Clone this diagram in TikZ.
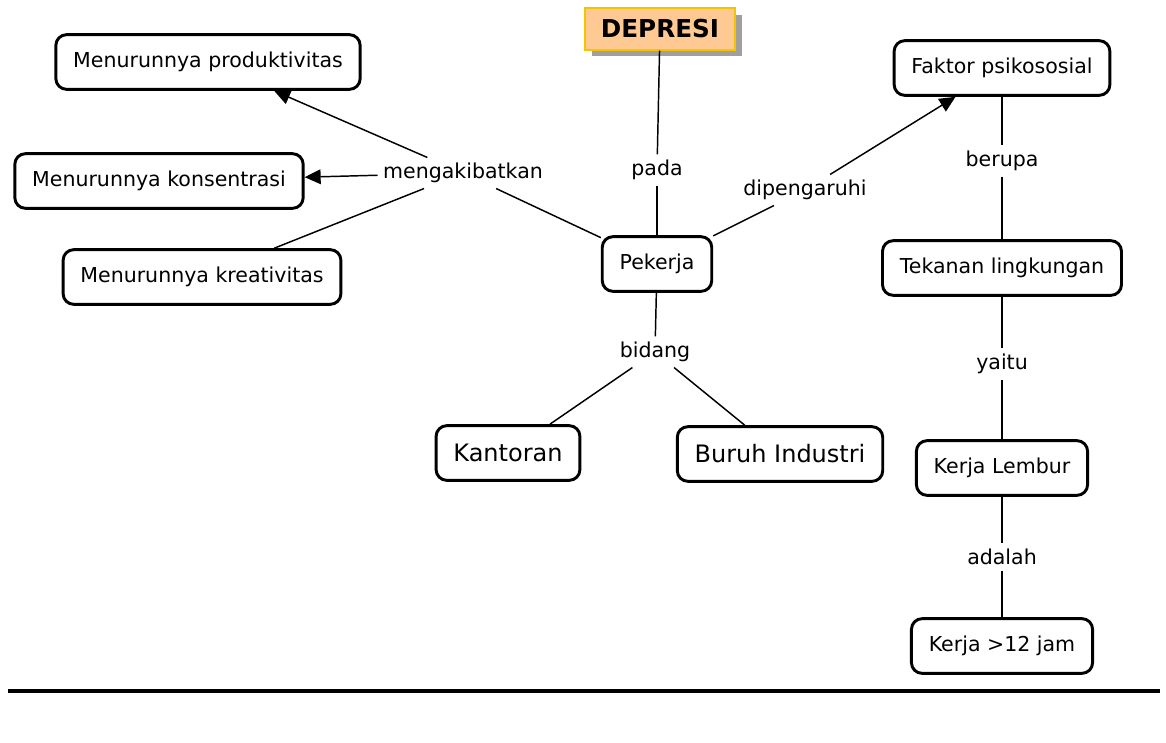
\documentclass[tikz,border=0pt]{standalone}
\usepackage{fontspec}
\setmainfont{DejaVu Sans}
\usetikzlibrary{arrows.meta,shadows}
\definecolor{peach}{HTML}{FFC993}
\definecolor{gold}{HTML}{F5C400}

\begin{document}
\begin{tikzpicture}[x=0.75pt,y=-0.75pt]
      \tikzstyle{concept} = [draw, line width=2.2pt, rounded corners=8pt, fill=white, minimum height=41pt, inner xsep=13pt, font=\fontsize{15.4}{18}\selectfont]
      \tikzstyle{big} = [concept, font=\fontsize{18}{21}\selectfont]
      \tikzstyle{link} = [inner sep=4pt, font=\fontsize{15.4}{18}\selectfont]
      \tikzstyle{edge} = [line width=1.1pt]
      \tikzstyle{arrow} = [edge, -{Triangle[length=12pt,width=11pt]}]

      \useasboundingbox (0,0) rectangle (1166,742);

      \node[draw=gold, line width=1.5pt, fill=peach, minimum height=31pt, inner xsep=12pt,
            drop shadow={shadow xshift=5pt, shadow yshift=-5pt, fill=gray!75, opacity=1},
            font=\fontsize{18.5}{22}\selectfont\bfseries] (dep) at (660,29) {DEPRESI};

      \node[concept] (prod) at (208,62) {Menurunnya produktivitas};
      \node[concept] (kons) at (159,181) {Menurunnya konsentrasi};
      \node[concept] (krea) at (202,277) {Menurunnya kreativitas};
      \node[concept] (pek) at (657,264) {Pekerja};
      \node[concept] (fak) at (1002,68) {Faktor psikososial};
      \node[concept] (tek) at (1002,268) {Tekanan lingkungan};
      \node[concept] (lem) at (1002,468) {Kerja Lembur};
      \node[concept] (jam) at (1002,646) {Kerja >12 jam};
      \node[big] (kan) at (508,453) {Kantoran};
      \node[big] (bur) at (780,454) {Buruh Industri};

      \node[link] (meng) at (463,173) {mengakibatkan};
      \node[link] (pada) at (657,170) {pada};
      \node[link] (dip) at (805,190) {dipengaruhi};
      \node[link] (ber) at (1002,161) {berupa};
      \node[link] (yai) at (1002,364) {yaitu};
      \node[link] (ada) at (1002,557) {adalah};
      \node[link] (bid) at (655,352) {bidang};

      \draw[edge] (pek) to (meng);
      \draw[arrow] (meng) to (prod);
      \draw[arrow] (meng) to (kons);
      \draw[edge] (meng) to (krea);
      \draw[edge] (pek) to (pada);
      \draw[edge] (pada) to (dep);
      \draw[edge] (pek) to (dip);
      \draw[arrow] (dip) to (fak);
      \draw[edge] (fak) to (ber);
      \draw[edge] (ber) to (tek);
      \draw[edge] (tek) to (yai);
      \draw[edge] (yai) to (lem);
      \draw[edge] (lem) to (ada);
      \draw[edge] (ada) to (jam);
      \draw[edge] (pek) to (bid);
      \draw[edge] (bid) to (kan);
      \draw[edge] (bid) to (bur);

      \coordinate (rule-l) at (8,691);
      \coordinate (rule-r) at (1160,691);
      \draw[line width=3pt] (rule-l) -- (rule-r);
    \end{tikzpicture}
\end{document}
